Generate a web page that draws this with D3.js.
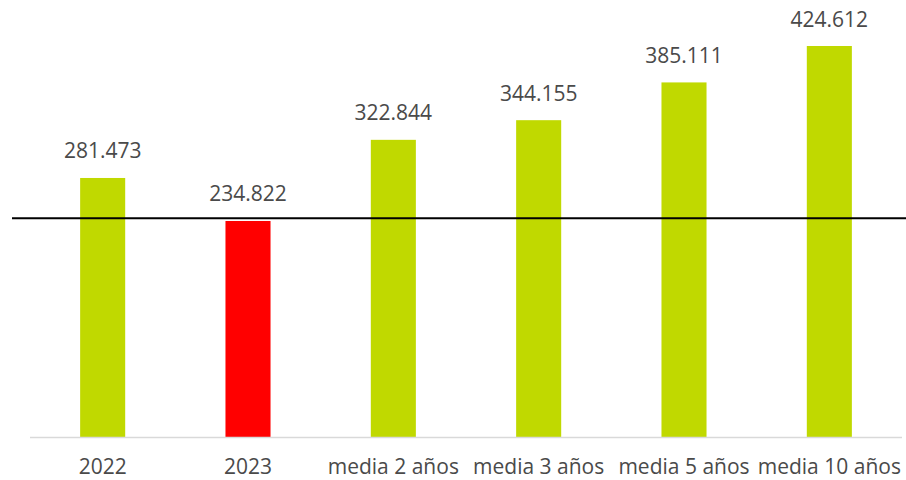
<!DOCTYPE html>
<html>
<head>
<meta charset="utf-8">
<script src="https://cdn.jsdelivr.net/npm/d3@7"></script>
<style>
  body { margin: 0; background: #fff; }
  text { font-family: "Open Sans", sans-serif; fill: #4a4a4a; }
</style>
</head>
<body>
<div id="chart"></div>
<script>
const categories = ['2022', '2023', 'media 2 años', 'media 3 años', 'media 5 años', 'media 10 años'];
const values = [281.473, 234.822, 322.844, 344.155, 385.111, 424.612];
const barColors = ['#c0d900', '#ff0000', '#c0d900', '#c0d900', '#c0d900', '#c0d900'];
const refValue = [237.7];

const width = 906, height = 480;
const svg = d3.select('#chart').append('svg')
    .attr('width', width)
    .attr('height', height);

const x = d3.scaleBand()
    .domain(categories)
    .range([30, 902])
    .paddingInner(0.69)
    .paddingOuter(0.345);

const y = d3.scaleLinear()
    .domain([0, 424.612])
    .range([437.5, 46]);

// bars
svg.append('g')
    .selectAll('rect')
    .data(values)
    .enter().append('rect')
    .attr('x', (d, i) => x(categories[i]))
    .attr('y', d => y(d))
    .attr('width', x.bandwidth())
    .attr('height', d => y(0) - y(d))
    .attr('fill', (d, i) => barColors[i]);

// axis line
svg.append('line')
    .attr('x1', 30).attr('x2', 902)
    .attr('y1', y(0)).attr('y2', y(0))
    .attr('stroke', '#d9d9d9')
    .attr('stroke-width', 1.5);

// value labels
svg.append('g')
    .selectAll('text')
    .data(values)
    .enter().append('text')
    .attr('x', (d, i) => x(categories[i]) + x.bandwidth() / 2)
    .attr('y', d => y(d) - 19.5)
    .attr('text-anchor', 'middle')
    .attr('font-size', 21)
    .text(d => d3.format('.3f')(d));

// category labels
svg.append('g')
    .selectAll('text')
    .data(categories)
    .enter().append('text')
    .attr('x', d => x(d) + x.bandwidth() / 2)
    .attr('y', 474)
    .attr('text-anchor', 'middle')
    .attr('font-size', 21)
    .text(d => d);

// reference line
svg.append('g')
    .selectAll('line')
    .data(refValue)
    .enter().append('line')
    .attr('x1', 12).attr('x2', 906)
    .attr('y1', d => y(d)).attr('y2', d => y(d))
    .attr('stroke', '#000')
    .attr('stroke-width', 2);
</script>
</body>
</html>
